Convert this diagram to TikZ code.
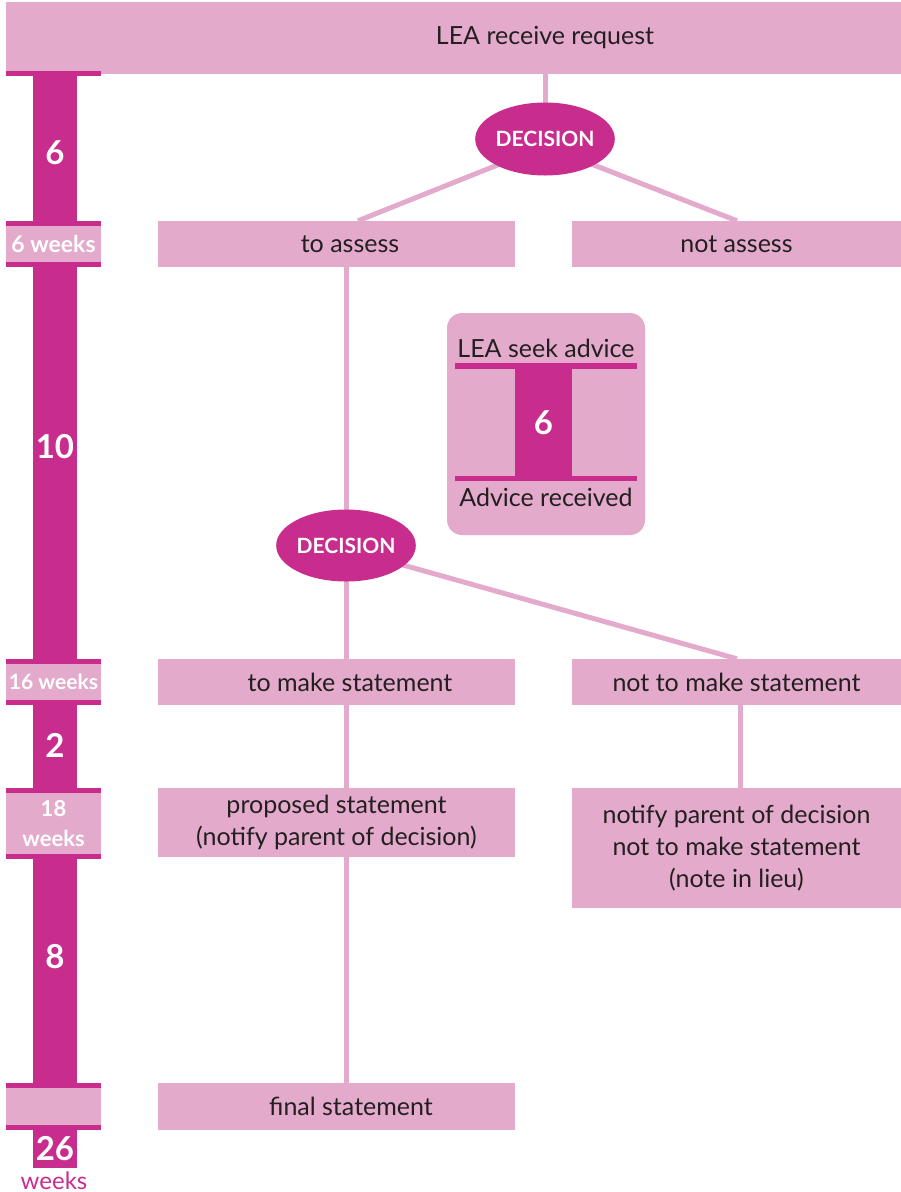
\documentclass[tikz,border=0pt]{standalone}
\usepackage{fontspec}
\setmainfont{Lato}
\usetikzlibrary{shapes.geometric,calc}
\definecolor{lpink}{RGB}{228,170,204}
\definecolor{mag}{RGB}{200,45,142}
\definecolor{ink}{RGB}{35,31,32}
\pgfdeclarelayer{bg}
\pgfsetlayers{bg,main}
\tikzset{
  pbox/.style={fill=lpink, inner sep=0pt, text=ink, font=\fontsize{25}{32}\selectfont, align=center},
  wbox/.style={fill=lpink, inner sep=0pt, minimum width=95pt, text=white, font=\bfseries\fontsize{22}{30}\selectfont, align=center},
  dec/.style={ellipse, fill=mag, inner sep=0pt, text=white, font=\bfseries\fontsize{21}{24}\selectfont},
  num/.style={text=white, font=\bfseries\fontsize{33}{36}\selectfont, inner sep=0pt},
  conn/.style={draw=lpink, line width=5pt},
  strip/.style={fill=mag},
}
\begin{document}
\begin{tikzpicture}[x=1pt,y=-1pt]
\useasboundingbox (0,0) rectangle (901,1192);
% left timeline bar
\fill[mag] (33,76) rectangle (77,1130);
% top box
\node[pbox, minimum width=895pt, minimum height=72pt] (top) at (453.5,38) {\hspace{183pt}LEA receive request};
\fill[strip] (6,71) rectangle (101,76);
% week boxes
\node[wbox, minimum height=46pt, font=\bfseries\fontsize{23}{26}\selectfont] (w6) at (53.5,244) {6 weeks};
\node[wbox, minimum height=46pt, font=\bfseries\fontsize{21}{24}\selectfont] (w16) at (53.5,682) {16 weeks};
\node[wbox, minimum height=71pt] (w18) at (53.5,823.5) {18\\weeks};
\node[wbox, minimum height=47pt] (w26) at (53.5,1106.5) {};
\foreach \w in {w6,w16,w18,w26}{
  \fill[strip] (\w.north west) rectangle ([yshift=-5pt]\w.north east);
  \fill[strip] (\w.south west) rectangle ([yshift=5pt]\w.south east);
}
\node[num] (n6) at (55,153) {6};
\node[num] (n10) at (55,447) {10};
\node[num] (n2) at (55,745) {2};
\node[num] (n8) at (55,957) {8};
\node[num, fill=mag, minimum width=44pt, minimum height=38pt] (n26) at (55,1149) {26};
\node[text=mag, inner sep=0pt, anchor=base, font=\fontsize{24}{26}\selectfont] (wk) at (54,1189) {weeks};
% decisions and boxes
\node[dec, minimum width=134pt, minimum height=73pt] (d1) at (545,139) {DECISION};
\node[pbox, minimum width=357pt, minimum height=46pt] (toassess) at (336.5,244) {\hspace{27pt}to assess};
\node[pbox, minimum width=329pt, minimum height=46pt] (notassess) at (736.5,244) {not assess};
\node[dec, minimum width=132pt, minimum height=72pt] (d2) at (346,545.5) {DECISION};
\node[pbox, minimum width=357pt, minimum height=46pt] (tomake) at (336.5,682) {\hspace{27pt}to make statement};
\node[pbox, minimum width=329pt, minimum height=46pt] (notmake) at (736.5,682) {not to make statement};
\node[pbox, minimum width=357pt, minimum height=69pt] (proposed) at (336.5,822.5) {proposed statement\\(notify parent of decision)};
\node[pbox, minimum width=329pt, minimum height=120pt] (notify) at (736.5,848) {notify parent of decision\\not to make statement\\(note in lieu)};
\node[pbox, minimum width=357pt, minimum height=47pt] (final) at (336.5,1106.5) {\hspace{29pt}final statement};
% advice box
\node[pbox, rounded corners=15pt, minimum width=198pt, minimum height=222pt] (adv) at (546,424) {};
\fill[strip] (455,363) rectangle (637,369);
\fill[strip] (455,476) rectangle (637,481);
\node[num, fill=mag, minimum width=57pt, minimum height=107pt] (a6) at (543.5,422.5) {6};
\node[text=ink, inner sep=0pt, font=\fontsize{25}{28}\selectfont] (seek) at (546,348) {LEA seek advice};
\node[text=ink, inner sep=0pt, font=\fontsize{25}{28}\selectfont] (recv) at (546,497) {Advice received};
% connectors
\coordinate (j1) at (545,146);
\coordinate (j2) at (346,549);
\begin{pgfonlayer}{bg}
\draw[conn] (top.south -| d1) -- (d1.center);
\draw[conn] (j1) -- ([xshift=21.5pt]toassess.north);
\draw[conn] (j1) -- ([xshift=0.5pt]notassess.north);
\draw[conn] (toassess.south -| d2) -- (d2.center);
\draw[conn] (d2.center) -- (tomake.north -| d2);
\draw[conn] (j2) -- ([xshift=0.5pt]notmake.north);
\draw[conn] (tomake.south -| d2) -- (proposed.north -| d2);
\draw[conn] (proposed.south -| d2) -- (final.north -| d2);
\draw[conn] ([xshift=3.5pt]notmake.south) -- ([xshift=3.5pt]notify.north);
\end{pgfonlayer}
\end{tikzpicture}
\end{document}
